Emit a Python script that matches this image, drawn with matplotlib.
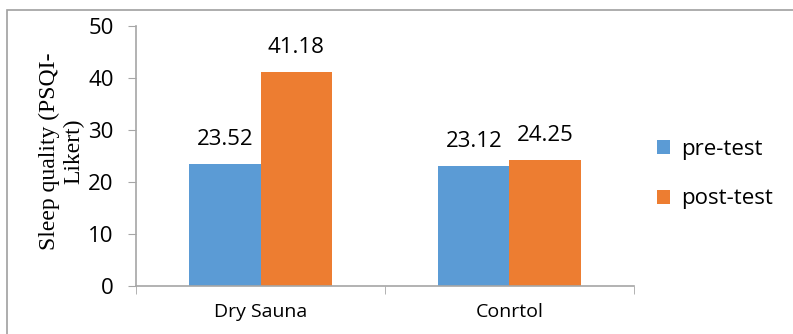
import matplotlib.pyplot as plt
import numpy as np
from matplotlib.patches import Rectangle

groups = ['Dry Sauna', 'Conrtol']
pre_test = [23.52, 23.12]
post_test = [41.18, 24.25]
series_names = ['pre-test', 'post-test']
colors = ['#5B9BD5', '#ED7D31']
axis_grey = '#A6A6A6'

plt.rcParams['font.family'] = ['Open Sans', 'DejaVu Sans']

fig = plt.figure(figsize=(7.93, 3.34), dpi=100)
# outer chart frame
fig.patches.append(Rectangle((7 / 793, -0.1), 1.2, 1 - 10 / 334 + 0.1,
                             transform=fig.transFigure, fill=False,
                             edgecolor='#A0A0A0', linewidth=1.2))

ax = fig.add_axes([136 / 793, 1 - 286 / 334, (634 - 136) / 793, 260 / 334])

x = np.arange(len(groups))
w = 0.287
b1 = ax.bar(x - w / 2, pre_test, w, color=colors[0], label=series_names[0])
b2 = ax.bar(x + w / 2, post_test, w, color=colors[1], label=series_names[1])

for bars, vals in ((b1, pre_test), (b2, post_test)):
    for r, v in zip(bars, vals):
        ax.annotate(f'{v:.2f}', (r.get_x() + r.get_width() / 2, v),
                    xytext=(0, 13.5), textcoords='offset points',
                    ha='center', va='baseline', fontsize=16)

ax.set_xlim(-0.5, 1.5)
ax.set_ylim(0, 50)
ax.set_yticks(range(0, 51, 10))
ax.set_xticks(x)
ax.set_xticklabels(groups)
ax.set_xticks([-0.5, 0.5, 1.5], minor=True)
ax.tick_params(axis='x', which='major', length=0, pad=12, labelsize=14)
ax.tick_params(axis='x', which='minor', length=6, color=axis_grey, direction='out')
ax.tick_params(axis='y', length=6, color=axis_grey, labelsize=16, pad=10)

for s in ('top', 'right'):
    ax.spines[s].set_visible(False)
for s in ('left', 'bottom'):
    ax.spines[s].set_color(axis_grey)
    ax.spines[s].set_linewidth(1.2)

fig.text(62 / 793, 1 - 151 / 334, 'Sleep quality (PSQI-\nLikert)',
         family='Liberation Serif', fontsize=17, rotation=90,
         ha='center', va='center', linespacing=1.2)

fig.legend(handles=[b1, b2], labels=series_names, loc='center left',
           bbox_to_anchor=(637 / 793, 1 - 174 / 334), frameon=False,
           fontsize=16, handlelength=0.6, handleheight=0.6,
           labelspacing=1.3, handletextpad=0.5)

fig.savefig('out.png', dpi=100)
